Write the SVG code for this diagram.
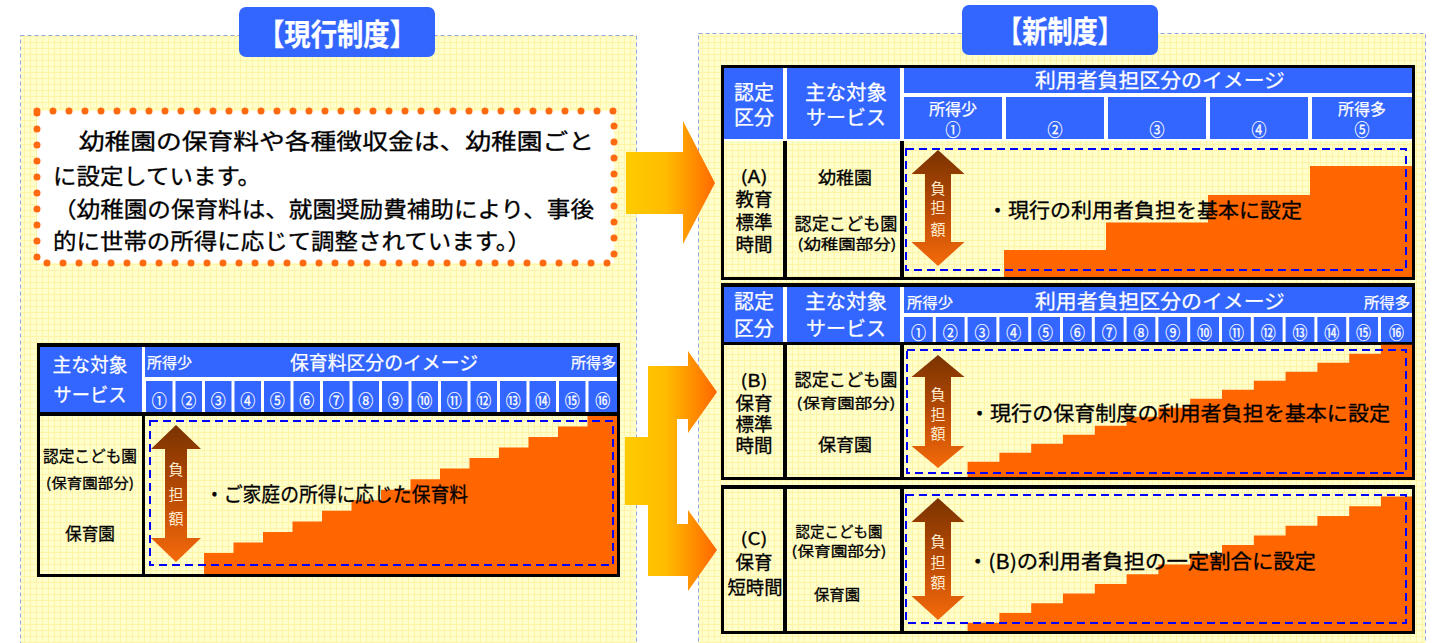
<svg xmlns="http://www.w3.org/2000/svg" width="1436" height="643" viewBox="0 0 1436 643">
<defs>
<style>
.t{font-family:"Noto Sans CJK JP","Noto Sans CJK SC",sans-serif;dominant-baseline:central;text-anchor:middle;}
.s{text-anchor:start;}
.e{text-anchor:end;}
.w{fill:#ffffff;stroke:#ffffff;stroke-width:0.25;}
.k{fill:#000000;stroke:#000000;stroke-width:0.3;}
.b{font-weight:bold;}
.blue{fill:#3366FF;}
.yel{fill:url(#grid);}
.stair{fill:#FF6600;}
.dash{fill:none;stroke:#0000FF;stroke-width:2;stroke-dasharray:8 5;}
.barrow{fill:url(#gBrown);}
.ft{fill:#FFEBCD;font-size:15px;}
.panel{fill:url(#grid);stroke:#8EA6E6;stroke-width:1;stroke-dasharray:4 3;}
</style>
<pattern id="grid" width="6" height="6" patternUnits="userSpaceOnUse">
<rect width="6" height="6" fill="#FFFFCC"/>
<path d="M0 0.5H6M0.5 0V6" stroke="#FFF3A8" stroke-width="1"/>
</pattern>
<linearGradient id="gArrow" gradientUnits="userSpaceOnUse" x1="625" y1="0" x2="717" y2="0">
<stop offset="0" stop-color="#FFCC00"/>
<stop offset="0.45" stop-color="#FFBB00"/>
<stop offset="1" stop-color="#FF6600"/>
</linearGradient>
<linearGradient id="gBrown" x1="0" y1="0" x2="0" y2="1">
<stop offset="0" stop-color="#7A3300"/>
<stop offset="0.5" stop-color="#B84A05"/>
<stop offset="1" stop-color="#F56A0A"/>
</linearGradient>
</defs>
<rect width="1436" height="643" fill="#ffffff"/>

<g id="panel-current">
<rect class="panel" x="20.5" y="35.5" width="616" height="620"/>
<rect class="blue" x="239" y="7" width="196" height="50" rx="7"/>
<text class="t w b" x="337" y="32" font-size="30" textLength="158" lengthAdjust="spacingAndGlyphs">【現行制度】</text>
</g>

<g id="panel-new">
<rect class="panel" x="698.5" y="33.5" width="727" height="620"/>
<rect class="blue" x="962" y="5" width="196" height="50" rx="7"/>
<text class="t w b" x="1060" y="29" font-size="30" textLength="126" lengthAdjust="spacingAndGlyphs">【新制度】</text>
</g>

<g id="note-box">
<rect x="37" y="111" width="577" height="152" fill="#ffffff" stroke="#FF6A10" stroke-width="7" stroke-linecap="round" stroke-dasharray="0 16"/>
<text class="t s k" x="53" y="139" font-size="22" textLength="541" lengthAdjust="spacingAndGlyphs">　幼稚園の保育料や各種徴収金は、幼稚園ごと</text>
<text class="t s k" x="53" y="174" font-size="22" textLength="208" lengthAdjust="spacingAndGlyphs">に設定しています。</text>
<text class="t s k" x="53" y="207" font-size="22" textLength="541" lengthAdjust="spacingAndGlyphs">（幼稚園の保育料は、就園奨励費補助により、事後</text>
<text class="t s k" x="53" y="239" font-size="22" textLength="478" lengthAdjust="spacingAndGlyphs">的に世帯の所得に応じて調整されています。）</text>
</g>

<g id="table-current">
<rect x="37" y="343" width="583" height="234" fill="#000"/>
<rect x="40" y="347" width="577" height="65" fill="#fff"/>
<rect class="blue" x="40" y="347" width="102" height="65"/>
<rect class="blue" x="145" y="347" width="472" height="30"/>
<g class="blue">
<rect x="146" y="381" width="26.5" height="31"/><rect x="175.5" y="381" width="26.5" height="31"/><rect x="205" y="381" width="26.5" height="31"/><rect x="234.5" y="381" width="26.5" height="31"/>
<rect x="264" y="381" width="26.5" height="31"/><rect x="293.5" y="381" width="26.5" height="31"/><rect x="323" y="381" width="26.5" height="31"/><rect x="352.5" y="381" width="26.5" height="31"/>
<rect x="382" y="381" width="26.5" height="31"/><rect x="411.5" y="381" width="26.5" height="31"/><rect x="441" y="381" width="26.5" height="31"/><rect x="470.5" y="381" width="26.5" height="31"/>
<rect x="500" y="381" width="26.5" height="31"/><rect x="529.5" y="381" width="26.5" height="31"/><rect x="559" y="381" width="26.5" height="31"/><rect x="588.5" y="381" width="28.5" height="31"/>
</g>
<rect class="yel" x="40" y="416" width="102" height="158"/>
<rect class="yel" x="145" y="416" width="472" height="158"/>
<text class="t w" x="90" y="363" font-size="19" textLength="75" lengthAdjust="spacingAndGlyphs">主な対象</text>
<text class="t w" x="90" y="393" font-size="19" textLength="73" lengthAdjust="spacingAndGlyphs">サービス</text>
<text class="t s w" x="147" y="361" font-size="15" textLength="45" lengthAdjust="spacingAndGlyphs">所得少</text>
<text class="t w" x="384" y="361" font-size="19" textLength="188" lengthAdjust="spacingAndGlyphs">保育料区分のイメージ</text>
<text class="t e w" x="616" y="361" font-size="15" textLength="45" lengthAdjust="spacingAndGlyphs">所得多</text>
<g class="t w" font-size="17">
<text x="159.3" y="399" textLength="15" lengthAdjust="spacingAndGlyphs">①</text><text x="188.8" y="399" textLength="15" lengthAdjust="spacingAndGlyphs">②</text><text x="218.3" y="399" textLength="15" lengthAdjust="spacingAndGlyphs">③</text><text x="247.8" y="399" textLength="15" lengthAdjust="spacingAndGlyphs">④</text>
<text x="277.3" y="399" textLength="15" lengthAdjust="spacingAndGlyphs">⑤</text><text x="306.8" y="399" textLength="15" lengthAdjust="spacingAndGlyphs">⑥</text><text x="336.3" y="399" textLength="15" lengthAdjust="spacingAndGlyphs">⑦</text><text x="365.8" y="399" textLength="15" lengthAdjust="spacingAndGlyphs">⑧</text>
<text x="395.3" y="399" textLength="15" lengthAdjust="spacingAndGlyphs">⑨</text><text x="424.8" y="399" textLength="15" lengthAdjust="spacingAndGlyphs">⑩</text><text x="454.3" y="399" textLength="15" lengthAdjust="spacingAndGlyphs">⑪</text><text x="483.8" y="399" textLength="15" lengthAdjust="spacingAndGlyphs">⑫</text>
<text x="513.3" y="399" textLength="15" lengthAdjust="spacingAndGlyphs">⑬</text><text x="542.8" y="399" textLength="15" lengthAdjust="spacingAndGlyphs">⑭</text><text x="572.3" y="399" textLength="15" lengthAdjust="spacingAndGlyphs">⑮</text><text x="602.8" y="399" textLength="15" lengthAdjust="spacingAndGlyphs">⑯</text>
</g>
<text class="t k" x="90" y="455" font-size="16" textLength="94" lengthAdjust="spacingAndGlyphs">認定こども園</text>
<text class="t k" x="90" y="482" font-size="14" textLength="88" lengthAdjust="spacingAndGlyphs">(保育園部分)</text>
<text class="t k" x="90" y="532" font-size="17" textLength="50" lengthAdjust="spacingAndGlyphs">保育園</text>
<path class="stair" d="M204 574V553H233.5V542.5H263V532H292.5V521.4H322V510.8H351.5V500.3H381V489.7H410.5V479.2H440V468.6H469.5V458H499V447.5H528.5V437H558V426.4H587.5V416H617V574Z"/>
<rect class="dash" x="150" y="421" width="463" height="144"/>
<polygon class="barrow" points="176,425 201,449 187,449 187,538 201,538 176,562 151,538 165,538 165,449 151,449"/>
<text class="t ft" x="176" y="468">負</text>
<text class="t ft" x="176" y="493">担</text>
<text class="t ft" x="176" y="517">額</text>
<text class="t s k" x="205" y="493" font-size="20" textLength="263" lengthAdjust="spacingAndGlyphs">・ご家庭の所得に応じた保育料</text>
</g>

<g id="table-a">
<rect x="721" y="65" width="694" height="215" fill="#000"/>
<rect x="724" y="68" width="688" height="73" fill="#fff"/>
<rect class="blue" x="724" y="68" width="59" height="71"/>
<rect class="blue" x="787" y="68" width="113" height="71"/>
<rect class="blue" x="904" y="68" width="508" height="25"/>
<rect class="blue" x="904" y="97" width="98" height="42"/>
<rect class="blue" x="1006" y="97" width="98" height="42"/>
<rect class="blue" x="1108" y="97" width="98" height="42"/>
<rect class="blue" x="1210" y="97" width="98" height="42"/>
<rect class="blue" x="1312" y="97" width="100" height="42"/>
<rect class="yel" x="724" y="141" width="59" height="136"/>
<rect class="yel" x="787" y="141" width="113" height="136"/>
<rect class="yel" x="904" y="141" width="508" height="136"/>
<text class="t w" x="754" y="91" font-size="20" textLength="40" lengthAdjust="spacingAndGlyphs">認定</text>
<text class="t w" x="754" y="116" font-size="20" textLength="40" lengthAdjust="spacingAndGlyphs">区分</text>
<text class="t w" x="846" y="91" font-size="20" textLength="82" lengthAdjust="spacingAndGlyphs">主な対象</text>
<text class="t w" x="846" y="116" font-size="20" textLength="80" lengthAdjust="spacingAndGlyphs">サービス</text>
<text class="t w" x="1160" y="79" font-size="20" textLength="250" lengthAdjust="spacingAndGlyphs">利用者負担区分のイメージ</text>
<text class="t w" x="953" y="108" font-size="16" textLength="48" lengthAdjust="spacingAndGlyphs">所得少</text>
<text class="t w" x="1362" y="108" font-size="16" textLength="48" lengthAdjust="spacingAndGlyphs">所得多</text>
<g class="t w" font-size="17">
<text x="953" y="128" textLength="15" lengthAdjust="spacingAndGlyphs">①</text>
<text x="1055" y="128" textLength="15" lengthAdjust="spacingAndGlyphs">②</text>
<text x="1157" y="128" textLength="15" lengthAdjust="spacingAndGlyphs">③</text>
<text x="1259" y="128" textLength="15" lengthAdjust="spacingAndGlyphs">④</text>
<text x="1362" y="128" textLength="15" lengthAdjust="spacingAndGlyphs">⑤</text>
</g>
<text class="t k" x="754" y="175" font-size="17" textLength="27" lengthAdjust="spacingAndGlyphs">(A)</text>
<text class="t k" x="754" y="198" font-size="18" textLength="37" lengthAdjust="spacingAndGlyphs">教育</text>
<text class="t k" x="754" y="221" font-size="18" textLength="37" lengthAdjust="spacingAndGlyphs">標準</text>
<text class="t k" x="754" y="243" font-size="18" textLength="37" lengthAdjust="spacingAndGlyphs">時間</text>
<text class="t k" x="845" y="176" font-size="17" textLength="54" lengthAdjust="spacingAndGlyphs">幼稚園</text>
<text class="t k" x="846" y="222" font-size="17" textLength="103" lengthAdjust="spacingAndGlyphs">認定こども園</text>
<text class="t k" x="847" y="243" font-size="14" textLength="99" lengthAdjust="spacingAndGlyphs">(幼稚園部分)</text>
<path class="stair" d="M1004 277V250H1106V222.6H1208V195H1310V166H1412V277Z"/>
<rect class="dash" x="906" y="149" width="500" height="121"/>
<polygon class="barrow" points="938,150 964.5,174 951,174 951,242 964.5,242 938,266 911.5,242 925,242 925,174 911.5,174"/>
<text class="t ft" x="938" y="187">負</text>
<text class="t ft" x="938" y="206">担</text>
<text class="t ft" x="938" y="228">額</text>
<text class="t s k" x="987" y="209" font-size="20" textLength="315" lengthAdjust="spacingAndGlyphs">・現行の利用者負担を基本に設定</text>
</g>

<g id="table-b">
<rect x="721" y="283" width="694" height="197" fill="#000"/>
<rect x="724" y="287" width="688" height="55" fill="#fff"/>
<rect class="blue" x="724" y="287" width="59" height="55"/>
<rect class="blue" x="787" y="287" width="113" height="55"/>
<rect class="blue" x="904" y="287" width="508" height="26"/>
<g class="blue">
<rect x="904" y="317" width="28.8" height="25"/><rect x="935.8" y="317" width="28.8" height="25"/><rect x="967.6" y="317" width="28.8" height="25"/><rect x="999.4" y="317" width="28.8" height="25"/>
<rect x="1031.2" y="317" width="28.8" height="25"/><rect x="1063" y="317" width="28.8" height="25"/><rect x="1094.8" y="317" width="28.8" height="25"/><rect x="1126.6" y="317" width="28.8" height="25"/>
<rect x="1158.4" y="317" width="28.8" height="25"/><rect x="1190.2" y="317" width="28.8" height="25"/><rect x="1222" y="317" width="28.8" height="25"/><rect x="1253.8" y="317" width="28.8" height="25"/>
<rect x="1285.6" y="317" width="28.8" height="25"/><rect x="1317.4" y="317" width="28.8" height="25"/><rect x="1349.2" y="317" width="28.8" height="25"/><rect x="1381" y="317" width="31" height="25"/>
</g>
<rect class="yel" x="724" y="345" width="59" height="132"/>
<rect class="yel" x="787" y="345" width="113" height="132"/>
<rect class="yel" x="904" y="345" width="508" height="132"/>
<text class="t w" x="754" y="300" font-size="20" textLength="40" lengthAdjust="spacingAndGlyphs">認定</text>
<text class="t w" x="754" y="327" font-size="20" textLength="40" lengthAdjust="spacingAndGlyphs">区分</text>
<text class="t w" x="846" y="300" font-size="20" textLength="82" lengthAdjust="spacingAndGlyphs">主な対象</text>
<text class="t w" x="846" y="327" font-size="20" textLength="80" lengthAdjust="spacingAndGlyphs">サービス</text>
<text class="t s w" x="907" y="301" font-size="15" textLength="46" lengthAdjust="spacingAndGlyphs">所得少</text>
<text class="t w" x="1160" y="300" font-size="20" textLength="250" lengthAdjust="spacingAndGlyphs">利用者負担区分のイメージ</text>
<text class="t e w" x="1410" y="301" font-size="15" textLength="46" lengthAdjust="spacingAndGlyphs">所得多</text>
<g class="t w" font-size="17">
<text x="918.4" y="331" textLength="15" lengthAdjust="spacingAndGlyphs">①</text><text x="950.2" y="331" textLength="15" lengthAdjust="spacingAndGlyphs">②</text><text x="982" y="331" textLength="15" lengthAdjust="spacingAndGlyphs">③</text><text x="1013.8" y="331" textLength="15" lengthAdjust="spacingAndGlyphs">④</text>
<text x="1045.6" y="331" textLength="15" lengthAdjust="spacingAndGlyphs">⑤</text><text x="1077.4" y="331" textLength="15" lengthAdjust="spacingAndGlyphs">⑥</text><text x="1109.2" y="331" textLength="15" lengthAdjust="spacingAndGlyphs">⑦</text><text x="1141" y="331" textLength="15" lengthAdjust="spacingAndGlyphs">⑧</text>
<text x="1172.8" y="331" textLength="15" lengthAdjust="spacingAndGlyphs">⑨</text><text x="1204.6" y="331" textLength="15" lengthAdjust="spacingAndGlyphs">⑩</text><text x="1236.4" y="331" textLength="15" lengthAdjust="spacingAndGlyphs">⑪</text><text x="1268.2" y="331" textLength="15" lengthAdjust="spacingAndGlyphs">⑫</text>
<text x="1300" y="331" textLength="15" lengthAdjust="spacingAndGlyphs">⑬</text><text x="1331.8" y="331" textLength="15" lengthAdjust="spacingAndGlyphs">⑭</text><text x="1363.6" y="331" textLength="15" lengthAdjust="spacingAndGlyphs">⑮</text><text x="1396.5" y="331" textLength="15" lengthAdjust="spacingAndGlyphs">⑯</text>
</g>
<text class="t k" x="754" y="379" font-size="17" textLength="27" lengthAdjust="spacingAndGlyphs">(B)</text>
<text class="t k" x="754" y="402" font-size="18" textLength="37" lengthAdjust="spacingAndGlyphs">保育</text>
<text class="t k" x="754" y="423" font-size="18" textLength="37" lengthAdjust="spacingAndGlyphs">標準</text>
<text class="t k" x="754" y="444" font-size="18" textLength="37" lengthAdjust="spacingAndGlyphs">時間</text>
<text class="t k" x="846" y="378" font-size="17" textLength="103" lengthAdjust="spacingAndGlyphs">認定こども園</text>
<text class="t k" x="846" y="402" font-size="14" textLength="99" lengthAdjust="spacingAndGlyphs">(保育園部分)</text>
<text class="t k" x="845" y="443" font-size="17" textLength="54" lengthAdjust="spacingAndGlyphs">保育園</text>
<path class="stair" d="M967.6 477V461.7H999.4V452.7H1031.2V443.7H1063V434.7H1094.8V425.7H1126.6V416.7H1158.4V407.7H1190.2V398.7H1222V389.7H1253.8V380.7H1285.6V371.7H1317.4V362.7H1349.2V353.7H1381V344.7H1412V477Z"/>
<rect class="dash" x="907" y="350" width="499" height="123"/>
<polygon class="barrow" points="938,355 964.5,377 951,377 951,446 964.5,446 938,468 911.5,446 925,446 925,377 911.5,377"/>
<text class="t ft" x="938" y="393">負</text>
<text class="t ft" x="938" y="413">担</text>
<text class="t ft" x="938" y="432">額</text>
<text class="t s k" x="969" y="412" font-size="20" textLength="421" lengthAdjust="spacingAndGlyphs">・現行の保育制度の利用者負担を基本に設定</text>
</g>

<g id="table-c">
<rect x="721" y="485" width="694" height="149" fill="#000"/>
<rect class="yel" x="724" y="489" width="59" height="142"/>
<rect class="yel" x="787" y="489" width="113" height="142"/>
<rect class="yel" x="904" y="489" width="508" height="142"/>
<text class="t k" x="754" y="537" font-size="17" textLength="27" lengthAdjust="spacingAndGlyphs">(C)</text>
<text class="t k" x="754" y="561" font-size="18" textLength="37" lengthAdjust="spacingAndGlyphs">保育</text>
<text class="t k" x="755" y="586" font-size="18" textLength="55" lengthAdjust="spacingAndGlyphs">短時間</text>
<text class="t k" x="839" y="530" font-size="15" textLength="87" lengthAdjust="spacingAndGlyphs">認定こども園</text>
<text class="t k" x="839" y="550" font-size="14" textLength="95" lengthAdjust="spacingAndGlyphs">(保育園部分)</text>
<text class="t k" x="837" y="593" font-size="15" textLength="46" lengthAdjust="spacingAndGlyphs">保育園</text>
<path class="stair" d="M967.6 631V622.7H999.4V613H1031.2V603.3H1063V593.6H1094.8V583.9H1126.6V574.2H1158.4V564.5H1190.2V554.8H1222V545.1H1253.8V535.4H1285.6V525.7H1317.4V516H1349.2V506.3H1381V496.6H1412V631Z"/>
<rect class="dash" x="906" y="495" width="500" height="128"/>
<polygon class="barrow" points="938,498 964.5,522 951,522 951,596 964.5,596 938,620 911.5,596 925,596 925,522 911.5,522"/>
<text class="t ft" x="938" y="540">負</text>
<text class="t ft" x="938" y="561">担</text>
<text class="t ft" x="938" y="581">額</text>
<text class="t s k" x="967" y="560" font-size="20" textLength="349" lengthAdjust="spacingAndGlyphs">・(B)の利用者負担の一定割合に設定</text>
</g>

<g id="connectors">
<polygon fill="url(#gArrow)" points="626,152 683,152 683,121 715,183 683,244 683,214 626,214"/>
<polygon fill="url(#gArrow)" points="625,437 648,437 648,366 688,366 688,351 717,392 688,433 688,419 677,419 677,524 688,524 688,510 717,550 688,591 688,576 648,576 648,505 625,505"/>
</g>
</svg>
